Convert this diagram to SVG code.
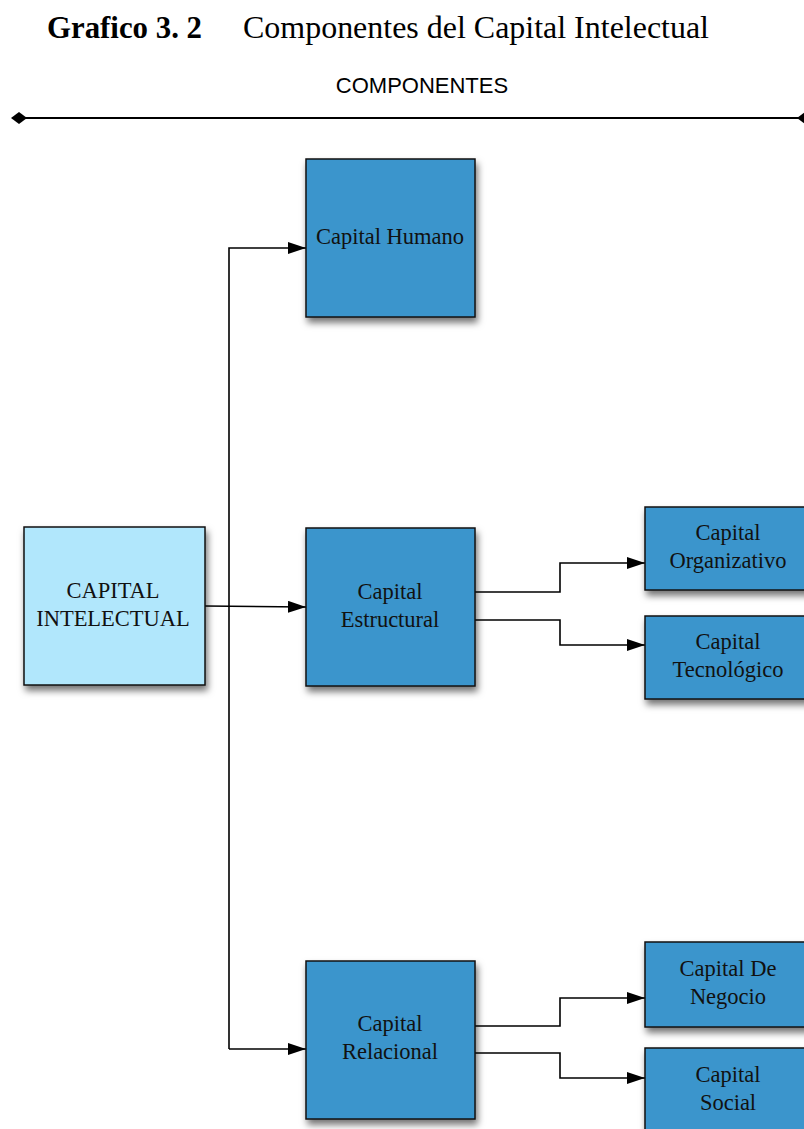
<svg xmlns="http://www.w3.org/2000/svg" width="804" height="1129" viewBox="0 0 804 1129">
  <defs>
    <filter id="shadow" x="-20%" y="-20%" width="150%" height="150%">
      <feDropShadow dx="2" dy="5" stdDeviation="3.5" flood-color="#000" flood-opacity="0.55"/>
    </filter>
    <marker id="arrow" viewBox="0 0 18 12" refX="18" refY="6" markerWidth="18" markerHeight="12" markerUnits="userSpaceOnUse" orient="auto">
      <path d="M0,0 L18,6 L0,12 Z" fill="#000"/>
    </marker>
    <style>
      .box { stroke: #111; stroke-width: 1.5; filter: url(#shadow); }
      .main { fill: #b1e7fc; }
      .comp { fill: #3a95cc; }
      .lbl { font-family: "Liberation Serif", "Times New Roman", serif; font-size: 22.5px; fill: #111; text-anchor: middle; }
      .wire { fill: none; stroke: #000; stroke-width: 1.6; }
    </style>
  </defs>
  <rect width="804" height="1129" fill="#fff"/>

  <!-- heading -->
  <text x="47" y="38" font-family="Liberation Serif, 'Times New Roman', serif" font-size="32" font-weight="bold" fill="#000" textLength="155" lengthAdjust="spacingAndGlyphs">Grafico 3. 2</text>
  <text x="243" y="38" font-family="Liberation Serif, 'Times New Roman', serif" font-size="32" fill="#000" textLength="466" lengthAdjust="spacingAndGlyphs">Componentes del Capital Intelectual</text>
  <text x="422" y="93" font-family="Liberation Sans, Arial, sans-serif" font-size="22" fill="#000" text-anchor="middle">COMPONENTES</text>
  <g id="span-line">
    <line x1="19" y1="118" x2="805" y2="118" stroke="#000" stroke-width="2"/>
    <path d="M11,118 L19,112 L27,118 L19,124 Z" fill="#000"/>
    <path d="M797,118 L805,112 L813,118 L805,124 Z" fill="#000"/>
  </g>

  <!-- connectors -->
  <g id="connectors">
    <path class="wire" d="M229,1049 L229,248 L306,248" marker-end="url(#arrow)"/>
    <path class="wire" d="M205,606 L306,607" marker-end="url(#arrow)"/>
    <path class="wire" d="M229,1049 L306,1049" marker-end="url(#arrow)"/>
    <path class="wire" d="M475,592 L560,592 L560,563 L645,563" marker-end="url(#arrow)"/>
    <path class="wire" d="M475,620 L560,620 L560,645 L645,645" marker-end="url(#arrow)"/>
    <path class="wire" d="M475,1026 L560,1026 L560,998 L645,998" marker-end="url(#arrow)"/>
    <path class="wire" d="M475,1053 L560,1053 L560,1078 L645,1078" marker-end="url(#arrow)"/>
  </g>

  <!-- nodes -->
  <g id="capital-intelectual">
    <rect class="box main" x="24" y="527" width="181" height="158"/>
    <text class="lbl" x="113" y="598">CAPITAL</text>
    <text class="lbl" x="113" y="626">INTELECTUAL</text>
  </g>
  <g id="capital-humano">
    <rect class="box comp" x="306" y="159" width="169" height="158"/>
    <text class="lbl" x="390" y="244">Capital Humano</text>
  </g>
  <g id="capital-estructural">
    <rect class="box comp" x="306" y="528" width="169" height="158"/>
    <text class="lbl" x="390" y="599">Capital</text>
    <text class="lbl" x="390" y="627">Estructural</text>
  </g>
  <g id="capital-relacional">
    <rect class="box comp" x="306" y="961" width="169" height="158"/>
    <text class="lbl" x="390" y="1031">Capital</text>
    <text class="lbl" x="390" y="1059">Relacional</text>
  </g>
  <g id="capital-organizativo">
    <rect class="box comp" x="645" y="507" width="168" height="83"/>
    <text class="lbl" x="728" y="540">Capital</text>
    <text class="lbl" x="728" y="568">Organizativo</text>
  </g>
  <g id="capital-tecnologico">
    <rect class="box comp" x="645" y="616" width="168" height="83"/>
    <text class="lbl" x="728" y="649">Capital</text>
    <text class="lbl" x="728" y="677">Tecnológico</text>
  </g>
  <g id="capital-de-negocio">
    <rect class="box comp" x="645" y="942" width="168" height="85"/>
    <text class="lbl" x="728" y="976">Capital De</text>
    <text class="lbl" x="728" y="1004">Negocio</text>
  </g>
  <g id="capital-social">
    <rect class="box comp" x="645" y="1048" width="168" height="85"/>
    <text class="lbl" x="728" y="1082">Capital</text>
    <text class="lbl" x="728" y="1110">Social</text>
  </g>
</svg>
